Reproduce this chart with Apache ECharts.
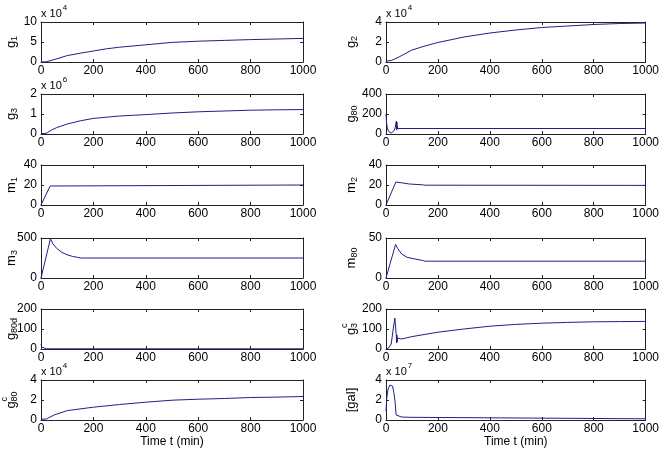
<!DOCTYPE html>
<html><head><meta charset="utf-8">
<script src="https://cdn.jsdelivr.net/npm/echarts@6/dist/echarts.min.js"></script>
<style>html,body{margin:0;padding:0;background:#fff}#c{width:662px;height:455px}</style>
</head><body><div id="c"></div>
<script>
// ---------------- data (time in min, values in axis units) ----------------
const timeTicks = [0, 200, 400, 600, 800, 1000];

const g1Data = [[0,0],[20,0.05],[50,0.6],[100,1.6],[150,2.2],[200,2.75],[250,3.3],[300,3.7],[400,4.3],[500,4.9],[600,5.2],[700,5.4],[800,5.6],[900,5.75],[1000,5.9]];
const g2Data = [[0,0.1],[20,0.15],[50,0.5],[100,1.2],[150,1.6],[200,1.95],[300,2.5],[400,2.9],[500,3.2],[600,3.45],[700,3.6],[800,3.75],[900,3.85],[1000,3.9]];
const g3Data = [[0,0.02],[20,0.03],[40,0.2],[60,0.32],[100,0.5],[150,0.66],[200,0.78],[300,0.9],[400,0.97],[500,1.05],[600,1.11],[700,1.15],[800,1.19],[900,1.21],[1000,1.22]];
const g80Data = [[0,200],[2,120],[5,60],[10,25],[15,12],[20,10],[25,15],[30,30],[35,60],[40,130],[41,40],[42,120],[43,50],[44,80],[45,55],[1000,55]];
const m1Data = [[0,0],[5,2],[35,19],[40,20],[1000,20]];
const m2Data = [[0,0],[5,1],[38,23],[60,22.2],[90,21],[140,20.2],[150,19.8],[1000,19.6]];
const m3Data = [[0,0],[5,10],[36,490],[45,430],[60,370],[80,320],[100,290],[120,270],[140,258],[150,250],[1000,250]];
const m80Data = [[0,0],[5,1],[37,42],[45,37],[60,30],[80,26],[100,24.5],[140,22],[150,21],[1000,21]];
const g80dData = [[0,25],[3,10],[8,3],[20,1],[38,1],[40,7],[42,1],[1000,1]];
const g3cData = [[0,0],[10,5],[20,25],[30,120],[34,155],[37,110],[40,60],[41,30],[42,70],[43,35],[44,55],[46,45],[60,50],[100,62],[150,73],[200,84],[300,100],[400,114],[500,123],[600,129],[700,133],[800,136],[900,137],[1000,138]];
const g80cData = [[0,0.07],[20,0.1],[50,0.5],[100,0.94],[200,1.28],[300,1.55],[400,1.78],[500,1.98],[600,2.08],[700,2.15],[800,2.25],[900,2.29],[1000,2.35]];
const galData = [[0,0.9],[3,2.2],[8,3.1],[15,3.5],[20,3.55],[25,3.4],[30,2.8],[35,1.8],[39,0.5],[42,0.3],[44,0.5],[45,0.3],[60,0.3],[90,0.27],[92,0.12],[1000,0.12]];

const g1Ticks = [0,5,10], g2Ticks = [0,2,4], g3Ticks = [0,1,2], g80Ticks = [0,200,400];
const m1Ticks = [0,20,40], m2Ticks = [0,20,40], m3Ticks = [0,500], m80Ticks = [0,50];
const g80dTicks = [0,100,200], g3cTicks = [0,100,200], g80cTicks = [0,2,4], galTicks = [0,2,4];

// ---------------- layout ----------------
const FONT = "'Liberation Sans Narrow','Liberation Sans',Arial,sans-serif";
const colLeft = [41, 386], plotW = 262, plotH = 40;
const rowTop = [22, 94, 165, 238, 309, 380];
const labelX = [11, 351];
const LINE = '#1f1f86', AX = '#222';

const panels = [
  {data:g1Data, ticks:g1Ticks, lab:['g','1',''], exp:'4'},
  {data:g2Data, ticks:g2Ticks, lab:['g','2',''], exp:'4'},
  {data:g3Data, ticks:g3Ticks, lab:['g','3',''], exp:'6'},
  {data:g80Data, ticks:g80Ticks, lab:['g','80','']},
  {data:m1Data, ticks:m1Ticks, lab:['m','1','']},
  {data:m2Data, ticks:m2Ticks, lab:['m','2','']},
  {data:m3Data, ticks:m3Ticks, lab:['m','3','']},
  {data:m80Data, ticks:m80Ticks, lab:['m','80','']},
  {data:g80dData, ticks:g80dTicks, lab:['g','80d','']},
  {data:g3cData, ticks:g3cTicks, lab:['g','3','c']},
  {data:g80cData, ticks:g80cTicks, lab:['g','80','c'], exp:'4'},
  {data:galData, ticks:galTicks, lab:['[gal]','',''], exp:'7'}
];

const ctx = document.createElement('canvas').getContext('2d');
function textW(t, size) { ctx.font = size + 'px ' + FONT; return ctx.measureText(t).width; }

const grid = [], xAxis = [], yAxis = [], series = [], graphic = [];
const fmt = v => String(v);
panels.forEach((p, i) => {
  const col = i % 2, row = Math.floor(i / 2);
  const left = colLeft[col], top = rowTop[row];
  grid.push({left: left, top: top, width: plotW, height: plotH, containLabel: false});
  const tickBase = {show: true, inside: true, length: 3, lineStyle: {color: AX}};
  const lineBase = {show: true, onZero: false, lineStyle: {color: AX, width: 1}};
  const xi = timeTicks[1] - timeTicks[0];
  xAxis.push({type:'value', gridIndex:i, position:'bottom', min:timeTicks[0], max:timeTicks[timeTicks.length-1], interval:xi,
    axisLine: lineBase, axisTick: tickBase, splitLine:{show:false},
    axisLabel:{show:true, margin:3, color:'#000', fontSize:12, fontFamily:FONT, formatter: fmt},
    name: row === 5 ? 'Time t (min)' : '', nameLocation:'middle', nameGap:12,
    nameTextStyle:{color:'#000', fontSize:12, fontFamily:FONT, verticalAlign:'top'}});
  xAxis.push({type:'value', gridIndex:i, position:'top', min:timeTicks[0], max:timeTicks[timeTicks.length-1], interval:xi,
    axisLine: lineBase, axisTick: tickBase, splitLine:{show:false}, axisLabel:{show:false}});
  const yi = p.ticks[1] - p.ticks[0];
  yAxis.push({type:'value', gridIndex:i, position:'left', min:p.ticks[0], max:p.ticks[p.ticks.length-1], interval:yi,
    axisLine: lineBase, axisTick: tickBase, splitLine:{show:false},
    axisLabel:{show:true, margin:4, color:'#000', fontSize:12, fontFamily:FONT, formatter: fmt}});
  yAxis.push({type:'value', gridIndex:i, position:'right', min:p.ticks[0], max:p.ticks[p.ticks.length-1], interval:yi,
    axisLine: lineBase, axisTick: tickBase, splitLine:{show:false}, axisLabel:{show:false}});
  series.push({type:'line', xAxisIndex:2*i, yAxisIndex:2*i, data:p.data, showSymbol:false, symbol:'none',
    lineStyle:{color:LINE, width:1}, animation:false, silent:true});

  // y label (rotated, reads bottom to top)
  const cy = top + plotH / 2;
  const children = [];
  const mainSize = 13, subSize = 9;
  const [m, s, sp] = p.lab;
  const mainW = textW(m, mainSize);
  const subW = Math.max(s ? textW(s, subSize) : 0, sp ? textW(sp, subSize) : 0);
  const x0 = -(mainW + subW) / 2;
  children.push({type:'text', x:x0, y:0, style:{text:m, fontSize:mainSize, fontFamily:FONT, fill:'#000', align:'left', verticalAlign:'middle'}});
  if (s) children.push({type:'text', x:x0 + mainW, y:4, style:{text:s, fontSize:subSize, fontFamily:FONT, fill:'#000', align:'left', verticalAlign:'middle'}});
  if (sp) children.push({type:'text', x:x0 + mainW, y:-6, style:{text:sp, fontSize:subSize, fontFamily:FONT, fill:'#000', align:'left', verticalAlign:'middle'}});
  graphic.push({type:'group', x:labelX[col], y:cy, rotation:Math.PI/2, children:children});

  if (p.exp) {
    graphic.push({type:'text', x:left, y:top - 8, style:{text:'x 10', fontSize:11, fontFamily:FONT, fill:'#000', align:'left', verticalAlign:'middle'}});
    graphic.push({type:'text', x:left + textW('x 10', 11) + 1, y:top - 14, style:{text:p.exp, fontSize:8, fontFamily:FONT, fill:'#000', align:'left', verticalAlign:'middle'}});
  }
});

const chart = echarts.init(document.getElementById('c'), null, {renderer:'canvas'});
chart.setOption({animation:false, backgroundColor:'#fff', grid, xAxis, yAxis, series, graphic});
</script></body></html>
